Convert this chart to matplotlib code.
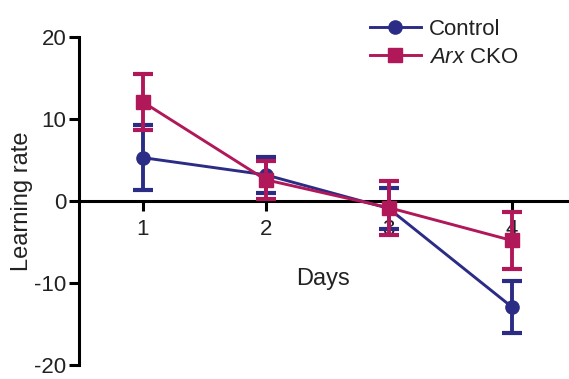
import numpy as np
import matplotlib
matplotlib.use("Agg")
import matplotlib.pyplot as plt

plt.rcParams["font.family"] = ["Liberation Sans", "DejaVu Sans"]
plt.rcParams["mathtext.fontset"] = "custom"
plt.rcParams["mathtext.rm"] = "Liberation Sans"
plt.rcParams["mathtext.it"] = "Liberation Sans:italic"

# Data
days = [1, 2, 3, 4]
control_mean = [5.3, 3.2, -0.9, -12.9]
control_err = [4.0, 2.2, 2.5, 3.2]
cko_mean = [12.1, 2.6, -0.8, -4.8]
cko_err = [3.4, 2.3, 3.3, 3.5]

blue = "#2b2c85"
red = "#b0185a"

fig = plt.figure(figsize=(5.69, 3.79), dpi=100)
ax = fig.add_axes([0.1388, 0.037, 1 - 0.1388, 0.865])

eb1 = ax.errorbar(days, control_mean, yerr=control_err, color=blue, marker="o",
                  markersize=9.5, linewidth=2.1, elinewidth=2.8, capsize=7,
                  capthick=3, zorder=3, label="Control")
eb2 = ax.errorbar(days, cko_mean, yerr=cko_err, color=red, marker="s",
                  markersize=9.5, linewidth=2.1, elinewidth=2.8, capsize=7,
                  capthick=3, zorder=4, label=r"$\mathit{Arx}$ CKO")

ax.set_xlim(0.482, 4.466)
ax.set_ylim(-20, 20)
ax.set_yticks([-20, -10, 0, 10, 20])
ax.set_yticklabels(["-20", "-10", "0", "10", "20"])
ax.set_xticks(days)

ax.spines["top"].set_visible(False)
ax.spines["right"].set_visible(False)
ax.spines["bottom"].set_position(("data", 0))
ax.spines["left"].set_linewidth(2.2)
ax.spines["bottom"].set_linewidth(2.2)
ax.tick_params(axis="both", width=2.2, length=7, labelsize=16,
               color="black", labelcolor="#222222")
ax.tick_params(axis="x", pad=6)
ax.tick_params(axis="y", pad=2)

ax.set_ylabel("Learning rate", fontsize=17, color="#222222")
ax.yaxis.set_label_coords(-0.094, 0.5)
ax.text(2.47, -9.5, "Days", fontsize=17, ha="center", va="center",
        color="#222222")

ax.legend(handles=[eb1[0], eb2[0]], labels=["Control", r"$\mathit{Arx}$ CKO"],
          loc="upper left", bbox_to_anchor=(0.650, 0.950),
          bbox_transform=fig.transFigure, frameon=False, fontsize=16,
          borderaxespad=0, borderpad=0, handlelength=2.3,
          handletextpad=0.35, labelspacing=0.3, labelcolor="#222222")

fig.savefig("out.png", dpi=100)
